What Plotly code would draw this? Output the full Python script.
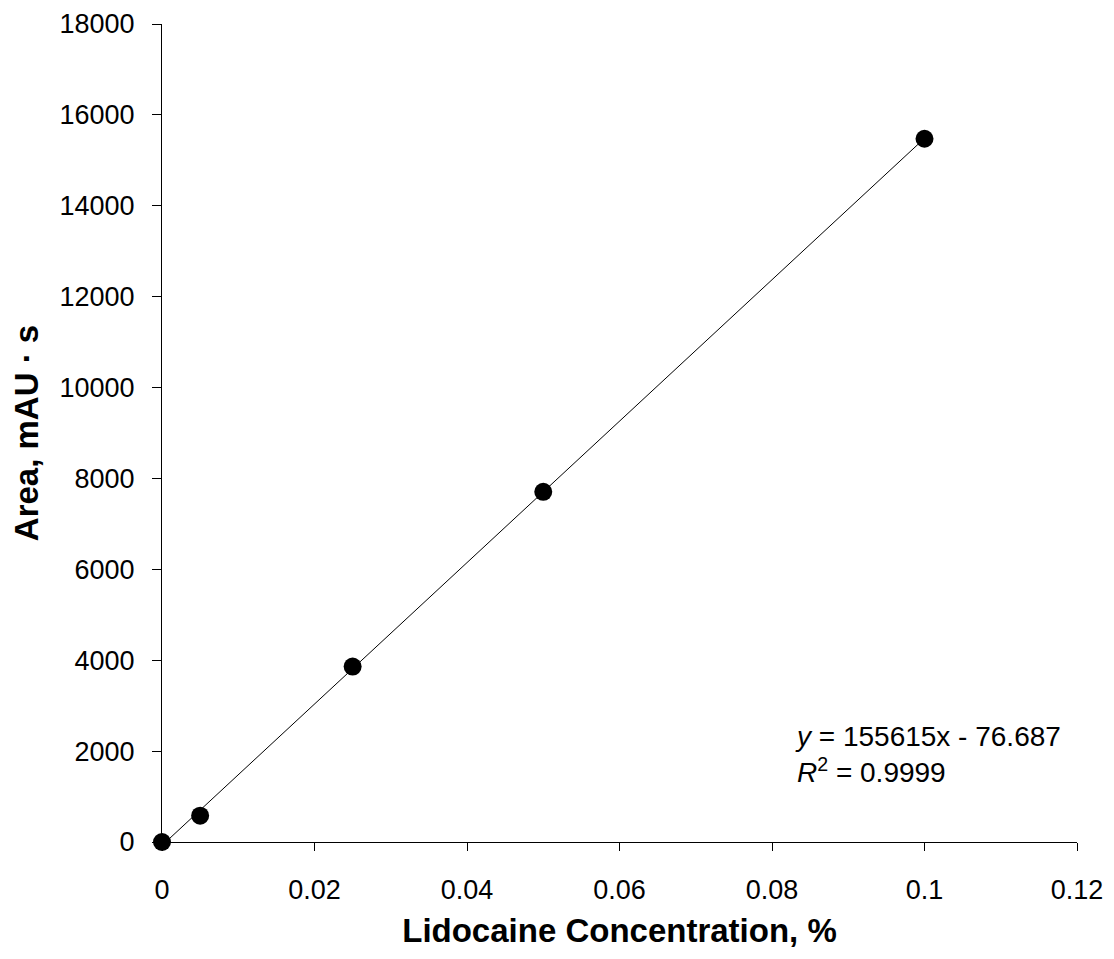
import plotly.graph_objects as go

conc = [0, 0.005, 0.025, 0.05, 0.1]
area = [0, 580, 3860, 7705, 15475]
slope = 155615
intercept = -76.687
fit_x = [0, 0.1]
fit_y = [slope * v + intercept for v in fit_x]

x_ticks = [0, 0.02, 0.04, 0.06, 0.08, 0.1, 0.12]
x_labels = ["0", "0.02", "0.04", "0.06", "0.08", "0.1", "0.12"]
y_ticks = [0, 2000, 4000, 6000, 8000, 10000, 12000, 14000, 16000, 18000]
y_labels = [str(v) for v in y_ticks]

FONT = "Arial, Liberation Sans, sans-serif"

fig = go.Figure()
fig.add_trace(go.Scatter(x=fit_x, y=fit_y, mode="lines",
                         line=dict(color="black", width=1), showlegend=False,
                         hoverinfo="skip"))
fig.add_trace(go.Scatter(x=conc, y=area, mode="markers",
                         marker=dict(color="black", size=18), showlegend=False))

fig.add_annotation(x=0.0827, y=2700, xref="x", yref="y", xanchor="left",
                   yanchor="top", showarrow=False, align="left",
                   text="<i>y</i> = 155615x - 76.687<br><i>R</i><sup>2</sup> = 0.9999",
                   font=dict(family=FONT, size=28, color="black"))

fig.update_layout(
    width=1098, height=943,
    margin=dict(l=154, r=29, t=16, b=109, autoexpand=False),
    paper_bgcolor="white", plot_bgcolor="white",
    font=dict(family=FONT, size=27, color="black"),
    xaxis=dict(range=[0, 0.12], tickvals=x_ticks, ticktext=x_labels,
               automargin=False,
               showgrid=False, zeroline=False, showline=True, linecolor="black",
               linewidth=1, ticks="outside", ticklen=8, tickcolor="black",
               tickfont=dict(size=27), ticklabelstandoff=16,
               title=dict(text="<b>Lidocaine Concentration, %</b>",
                          font=dict(size=33), standoff=14)),
    yaxis=dict(range=[0, 18000], tickvals=y_ticks, ticktext=y_labels,
               automargin=False,
               showgrid=False, zeroline=False, showline=True, linecolor="black",
               linewidth=1, ticks="outside", ticklen=9, tickcolor="black",
               tickfont=dict(size=27), ticklabelstandoff=12,
               title=dict(text="<b>Area, mAU · s</b>",
                          font=dict(size=33), standoff=16)),
)
fig.update_traces(cliponaxis=False)

fig.write_html("out.html")
